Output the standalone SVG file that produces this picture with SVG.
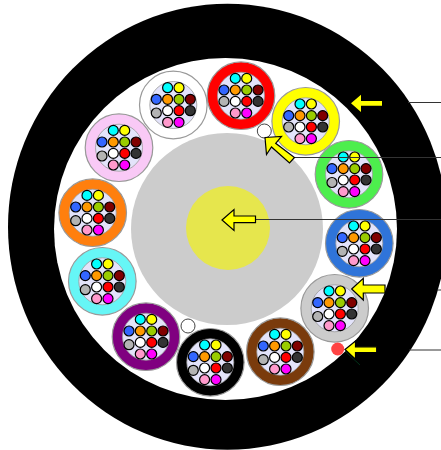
<svg xmlns="http://www.w3.org/2000/svg" xmlns:xlink="http://www.w3.org/1999/xlink" width="441" height="450" viewBox="0 0 441 450">
<style>
.ring{stroke:#999;stroke-width:1.2}
.in{fill:#e3e3fa;stroke:#999;stroke-width:.8}
.f{stroke:#000;stroke-width:1.2}
.ln{stroke:#333;stroke-width:1;fill:none}
.free{fill:#fff;stroke:#444;stroke-width:1}
.ar{fill:#ff0}
.as{fill:#ff0;stroke:#000;stroke-width:1.2}
</style>
<defs>
<g id="t">
<circle class="in" r="23.500"/>
<circle class="f" cx="-5.700" cy="-17.300" r="5" fill="#0ff"/>
<circle class="f" cx="5.700" cy="-17.300" r="5" fill="#ff0"/>
<circle class="f" cx="-17" cy="-5.700" r="5" fill="#36f"/>
<circle class="f" cx="-5.700" cy="-5.700" r="5" fill="#f90"/>
<circle class="f" cx="5.700" cy="-5.700" r="5" fill="#9c0"/>
<circle class="f" cx="17" cy="-5.700" r="5" fill="#800000"/>
<circle class="f" cx="-5.700" cy="5.700" r="5" fill="#fff"/>
<circle class="f" cx="5.700" cy="5.700" r="5" fill="#f00"/>
<circle class="f" cx="17" cy="5.700" r="5" fill="#333"/>
<circle class="f" cx="-5.700" cy="17.300" r="5" fill="#f9c"/>
<circle class="f" cx="5.700" cy="17.300" r="5" fill="#f0f"/>
</g>
</defs>
<g id="jacket"><ellipse cx="227.500" cy="226.800" rx="219.500" ry="223" fill="#000"/><ellipse cx="225.500" cy="229" rx="171.500" ry="171" fill="#fff"/></g>
<g id="core"><circle cx="227" cy="229" r="96" fill="#ccc"/><circle cx="228" cy="228" r="42" fill="#e6e64d"/></g>
<g id="bundle-white"><circle class="ring" cx="173.300" cy="105" r="33.800" fill="#fff"/><use xlink:href="#t" href="#t" x="173.300" y="105"/><circle class="f" cx="156.300" cy="113" r="5" fill="#b3b3b3"/></g>
<g id="bundle-red"><circle class="ring" cx="241" cy="95.700" r="33.800" fill="#f00"/><use xlink:href="#t" href="#t" x="241" y="95.700"/><circle class="f" cx="224" cy="101.400" r="5" fill="#b3b3b3"/></g>
<g id="bundle-yellow"><circle class="ring" cx="305.700" cy="121.300" r="33.800" fill="#ff0"/><use xlink:href="#t" href="#t" x="305.700" y="121.300"/><circle class="f" cx="288.700" cy="127" r="5" fill="#b3b3b3"/></g>
<g id="bundle-green"><circle class="ring" cx="349" cy="174.300" r="33.800" fill="#4dee4d"/><use xlink:href="#t" href="#t" x="349" y="174.300"/><circle class="f" cx="332" cy="182.500" r="5" fill="#b3b3b3"/></g>
<g id="bundle-blue"><circle class="ring" cx="359.300" cy="243.300" r="33.800" fill="#2f74d9"/><use xlink:href="#t" href="#t" x="359.300" y="243.300"/><circle class="f" cx="342.300" cy="251.300" r="5" fill="#b3b3b3"/></g>
<g id="bundle-gray"><circle class="ring" cx="334.700" cy="308.300" r="33.800" fill="#ccc"/><use xlink:href="#t" href="#t" x="334.700" y="308.300"/><circle class="f" cx="317.700" cy="316.500" r="5" fill="#b3b3b3"/></g>
<g id="bundle-brown"><circle class="ring" cx="280.300" cy="351.700" r="33.800" fill="#7a3b0c"/><use xlink:href="#t" href="#t" x="280.300" y="351.700"/><circle class="f" cx="263.300" cy="359.700" r="5" fill="#b3b3b3"/></g>
<g id="bundle-black"><circle class="ring" cx="210.300" cy="362.300" r="33.800" fill="#000"/><use xlink:href="#t" href="#t" x="210.300" y="362.300"/><circle class="f" cx="193.300" cy="370.300" r="5" fill="#b3b3b3"/></g>
<g id="bundle-purple"><circle class="ring" cx="146" cy="336.700" r="33.800" fill="#800080"/><use xlink:href="#t" href="#t" x="146" y="336.700"/><circle class="f" cx="129" cy="344.700" r="5" fill="#b3b3b3"/></g>
<g id="bundle-cyan"><circle class="ring" cx="102.300" cy="281.300" r="33.800" fill="#66f6f6"/><use xlink:href="#t" href="#t" x="102.300" y="281.300"/><circle class="f" cx="85.300" cy="289.700" r="5" fill="#b3b3b3"/></g>
<g id="bundle-orange"><circle class="ring" cx="92.700" cy="212.700" r="33.800" fill="#ff7f0e"/><use xlink:href="#t" href="#t" x="92.700" y="212.700"/><circle class="f" cx="75.700" cy="220.700" r="5" fill="#b3b3b3"/></g>
<g id="bundle-pink"><circle class="ring" cx="119" cy="147.700" r="33.800" fill="#f9c9f6"/><use xlink:href="#t" href="#t" x="119" y="147.700"/><circle class="f" cx="102" cy="156" r="5" fill="#b3b3b3"/></g>
<g id="free"><circle class="free" cx="264.300" cy="131" r="7"/><circle class="free" cx="188" cy="326" r="7"/><circle cx="337.700" cy="349" r="6.500" fill="#f44"/></g>
<g id="connectors">
<path class="ln" d="M408 102.500H441M293 157.500H441M255 219.500H441M437 290H441M409 350H441"/>
<path d="M345 351L360 365" fill="none" stroke="#063" stroke-width=".5"/>
</g>
<g id="arrows">
<polygon class="ar" points="351,103.300 361,94.700 361,101 382,101 382,105.700 361,105.700 361,112"/>
<polygon class="as" points="265,137.500 281.500,136.500 275.700,143.300 294.500,157.500 289.500,163 271.500,147 266.500,154.500"/>
<polygon class="as" points="222,220 234,209.500 234,216 255.500,216 255.500,222.700 234,222.700 234,230.500"/>
<polygon class="as" points="351.700,289 363.300,278.300 363.300,285 385,285 385,293 363.300,293 363.300,300"/>
<polygon class="as" points="345,349.500 355.500,341 355.500,346.800 376.700,346.800 376.700,352.500 355.500,352.500 355.500,359.300"/>
</g>
</svg>
